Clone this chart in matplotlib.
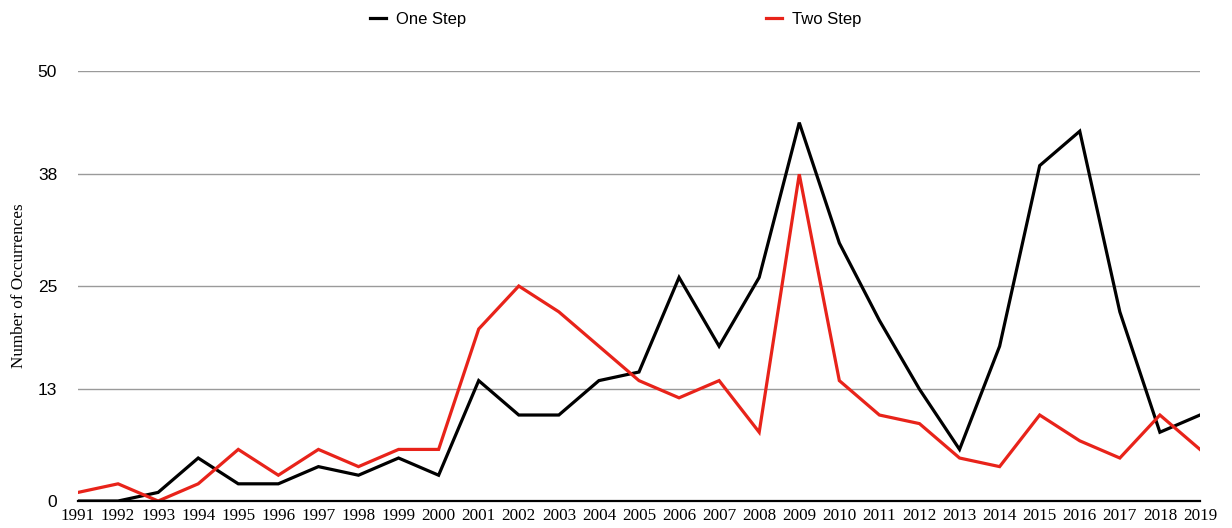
import numpy as np
import matplotlib
matplotlib.use('Agg')
import matplotlib.pyplot as plt

years = list(range(1991, 2020))
one_step = [0, 0, 1, 5, 2, 2, 4, 3, 5, 3, 14, 10, 10, 14, 15, 26, 18, 26, 44, 30,
            21, 13, 6, 18, 39, 43, 22, 8, 10]
two_step = [1, 2, 0, 2, 6, 3, 6, 4, 6, 6, 20, 25, 22, 18, 14, 12, 14, 8, 38, 14,
            10, 9, 5, 4, 10, 7, 5, 10, 6]
yticks = [0, 13, 25, 38, 50]

fig = plt.figure(figsize=(12.32, 5.28), dpi=100)
ax = fig.add_axes([0.0633, 0.0511, 0.9107, 0.8144])

ax.plot(years, one_step, color='black', lw=2.3, label='One Step', solid_joinstyle='miter')
ax.plot(years, two_step, color='#e8231a', lw=2.3, label='Two Step', solid_joinstyle='miter')

ax.set_xlim(1991, 2019)
ax.set_ylim(0, 50)
ax.set_yticks(yticks)
ax.set_xticks(years)
ax.set_xticklabels([str(y) for y in years], family='Liberation Serif', fontsize=12.3)
ax.set_yticklabels([str(t) for t in yticks], family='Liberation Sans', fontsize=12.5)
ax.tick_params(axis='both', length=0)
ax.tick_params(axis='x', pad=5)
ax.tick_params(axis='y', pad=15)
for t in yticks[1:]:
    ax.axhline(t, color='#9a9a9a', lw=1, zorder=0)
for s in ['top', 'right', 'left']:
    ax.spines[s].set_visible(False)
ax.spines['bottom'].set_color('black')
ax.spines['bottom'].set_linewidth(1.6)
ax.set_ylabel('Number of Occurrences', family='Liberation Serif', fontsize=12.3)
ax.yaxis.set_label_coords(-0.045, 0.5)

fig.legend(loc='upper left', bbox_to_anchor=(0.288, 1.006), ncol=2, frameon=False,
           prop={'family': 'Liberation Sans', 'size': 12},
           handlelength=0.96, handletextpad=0.6, columnspacing=18)

plt.savefig('out.png', dpi=100)
plt.close()
